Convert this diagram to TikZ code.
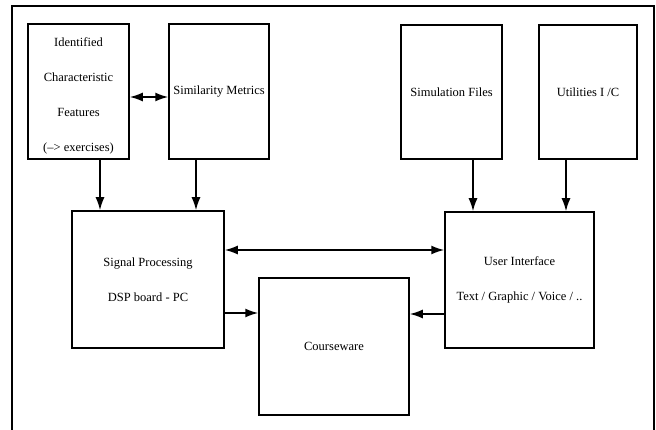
\documentclass[tikz,border=0pt]{standalone}
\usepackage{fontspec}
\setmainfont{Liberation Serif}
\usetikzlibrary{arrows.meta}
\tikzset{
  blk/.style={draw, line width=1.5pt, align=center, inner sep=0pt,
    font=\fontsize{12.5}{35}\selectfont},
  flow/.style={line width=1.6pt, arrows={-Latex[length=13pt,width=9pt]}},
  both/.style={line width=1.6pt,
    arrows={Latex[length=13pt,width=9pt]-Latex[length=13pt,width=9pt]}}
}
\begin{document}
\begin{tikzpicture}[x=1pt,y=-1pt]
\useasboundingbox (0,0) rectangle (656,430);
% frame
\draw[line width=1.3pt] (12,430) -- (12,6) -- (654,6) -- (654,430);
% top row
\node[blk, minimum width=101pt, minimum height=135pt] (feat) at (78.5,91.5)
  {\rule{0pt}{9pt}\\[-26pt]Identified\\Characteristic\\Features\\(--> exercises)};
\node[blk, minimum width=100pt, minimum height=135pt] (sim) at (219,91.5) {Similarity Metrics};
\node[blk, minimum width=101pt, minimum height=134pt] (simf) at (451.5,92) {Simulation Files};
\node[blk, minimum width=98pt, minimum height=134pt] (util) at (588,92) {Utilities I /C};
% bottom row
\node[blk, minimum width=152pt, minimum height=137pt] (sig) at (148,279.5)
  {Signal Processing\\DSP board - PC};
\node[blk, minimum width=149pt, minimum height=136pt] (ui) at (519.5,280)
  {User Interface\\Text / Graphic / Voice / ..};
\node[blk, minimum width=150pt, minimum height=137pt] (crs) at (334,346.5) {Courseware};
% links
\draw[both] ([yshift=-5.5pt]feat.east) -- ([yshift=-5.5pt]sim.west);
\draw[flow] ([xshift=21.5pt]feat.south) -- ([xshift=21.5pt]feat.south |- sig.north);
\draw[flow] ([xshift=-23pt]sim.south) -- ([xshift=-23pt]sim.south |- sig.north);
\draw[flow] ([xshift=21.5pt]simf.south) -- ([xshift=21.5pt]simf.south |- ui.north);
\draw[flow] ([xshift=-22pt]util.south) -- ([xshift=-22pt]util.south |- ui.north);
\draw[both] ([yshift=29.5pt]sig.east) -- ([yshift=29.5pt]sig.east -| ui.west);
\draw[flow] ([yshift=-33.5pt]sig.east) -- ([yshift=-33.5pt]sig.east -| crs.west);
\draw[flow] ([yshift=-34pt]ui.west) -- ([yshift=-34pt]ui.west -| crs.east);
\end{tikzpicture}
\end{document}
